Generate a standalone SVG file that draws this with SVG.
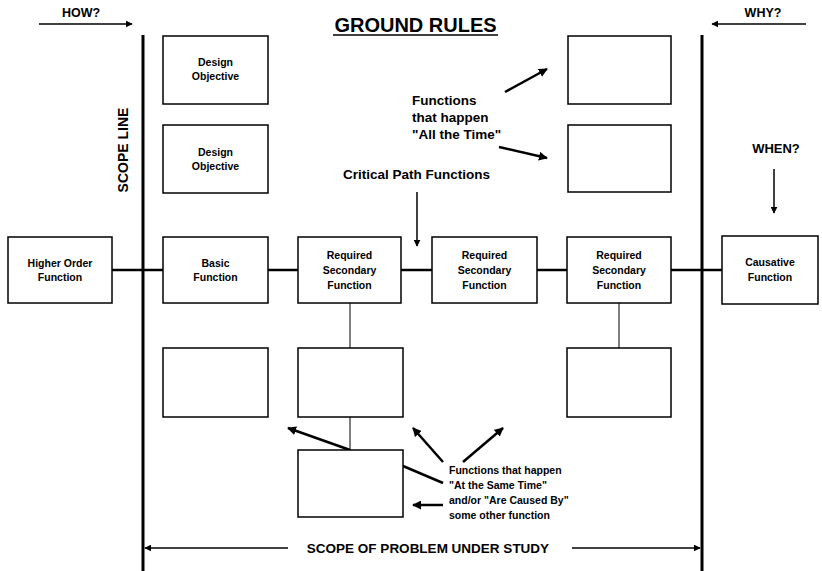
<svg xmlns="http://www.w3.org/2000/svg" width="822" height="571" viewBox="0 0 822 571">
<style>
  .box { fill: #fff; stroke: #000; stroke-width: 1.5; }
  .lbl { font-family: "Liberation Sans", Arial, sans-serif; font-weight: bold; font-size: 10.5px; text-anchor: middle; fill: #000; }
  .note { font-family: "Liberation Sans", Arial, sans-serif; font-weight: bold; fill: #000; }
  .scope { stroke: #000; stroke-width: 3; fill: none; }
  .main { stroke: #000; stroke-width: 2.5; fill: none; }
  .thin { stroke: #000; stroke-width: 1; fill: none; }
  .arr { stroke: #000; stroke-width: 1.5; fill: none; marker-end: url(#ah); }
  .arrb { stroke: #000; stroke-width: 2.5; fill: none; marker-end: url(#ah2); }
</style>
<defs>
  <marker id="ah" viewBox="0 0 10 10" refX="9" refY="5" markerWidth="7" markerHeight="7" markerUnits="userSpaceOnUse" orient="auto">
    <path d="M0,0 L10,5 L0,10 z" fill="#000"/>
  </marker>
  <marker id="ah2" viewBox="0 0 10 10" refX="9" refY="5" markerWidth="9" markerHeight="9" markerUnits="userSpaceOnUse" orient="auto">
    <path d="M0,0 L10,5 L0,10 z" fill="#000"/>
  </marker>
</defs>
<rect width="822" height="571" fill="#fff"/>

<!-- Title and headings -->
<g id="title">
  <text class="note" x="415.5" y="32" font-size="20" text-anchor="middle">GROUND RULES</text>
  <line x1="333" y1="35" x2="498" y2="35" stroke="#000" stroke-width="1.5"/>
</g>
<g id="how">
  <text class="note" x="81" y="17" font-size="12.5" text-anchor="middle">HOW?</text>
</g>
<g id="why">
  <text class="note" x="763" y="17" font-size="12.5" text-anchor="middle">WHY?</text>
</g>
<g id="when">
  <text class="note" x="776" y="153" font-size="13" text-anchor="middle">WHEN?</text>
</g>
<g id="scope-line-label">
  <text class="note" transform="translate(128,150) rotate(-90)" font-size="14" text-anchor="middle">SCOPE LINE</text>
</g>
<g id="critical-path-label">
  <text class="note" x="490" y="179" font-size="13.5" text-anchor="end">Critical Path Functions</text>
</g>
<g id="all-the-time-label">
  <text class="note" x="412" y="105" font-size="13.5">Functions</text>
  <text class="note" x="412" y="122" font-size="13.5">that happen</text>
  <text class="note" x="412" y="139" font-size="13.5">"All the Time"</text>
</g>
<g id="same-time-label">
  <text class="note" x="449" y="474" font-size="10.5">Functions that happen</text>
  <text class="note" x="449" y="489" font-size="10.5">"At the Same Time"</text>
  <text class="note" x="449" y="504" font-size="10.5">and/or "Are Caused By"</text>
  <text class="note" x="449" y="519" font-size="10.5">some other function</text>
</g>
<g id="scope-of-problem-label">
  <text class="note" x="428" y="553" font-size="13.5" text-anchor="middle">SCOPE OF PROBLEM UNDER STUDY</text>
</g>

<!-- Connectors -->
<g id="connectors">
  <line class="scope" x1="143" y1="35" x2="143" y2="571"/>
  <line class="scope" x1="702" y1="35" x2="702" y2="571"/>
  <line class="main" x1="112" y1="270" x2="163" y2="270"/>
  <line class="main" x1="268" y1="270" x2="298" y2="270"/>
  <line class="main" x1="401" y1="270" x2="432" y2="270"/>
  <line class="main" x1="537" y1="270" x2="567" y2="270" stroke-width="2"/>
  <line class="main" x1="671" y1="270" x2="722" y2="270"/>
  <line class="thin" x1="350" y1="303" x2="350" y2="348"/>
  <line class="thin" x1="350" y1="417" x2="350" y2="450"/>
  <line class="thin" x1="619" y1="303" x2="619" y2="348"/>
  <line class="arr" x1="39" y1="24" x2="132" y2="24"/>
  <line class="arr" x1="806" y1="24" x2="712" y2="24"/>
  <line class="arr" x1="774" y1="169" x2="774" y2="213"/>
  <line class="arr" x1="417" y1="192" x2="417" y2="246"/>
  <line class="arrb" x1="505" y1="92" x2="547" y2="69"/>
  <line class="arrb" x1="499" y1="147" x2="547" y2="158"/>
  <line class="arrb" x1="350" y1="450" x2="288" y2="428"/>
  <line class="arrb" x1="443" y1="462" x2="413" y2="428"/>
  <line class="arrb" x1="463" y1="462" x2="503" y2="428"/>
  <line class="main" x1="403" y1="466" x2="443" y2="483" stroke-width="2"/>
  <line class="arrb" x1="443" y1="505" x2="413" y2="505"/>
  <line class="arr" x1="288" y1="548" x2="145" y2="548"/>
  <line class="arr" x1="572" y1="548" x2="700" y2="548"/>
</g>

<!-- Nodes -->
<g id="design-objective-1">
  <rect class="box" x="163" y="36" width="105" height="68"/>
  <text class="lbl" x="215.5" y="66">Design</text>
  <text class="lbl" x="215.5" y="80">Objective</text>
</g>
<g id="design-objective-2">
  <rect class="box" x="163" y="125" width="105" height="68"/>
  <text class="lbl" x="215.5" y="155.5">Design</text>
  <text class="lbl" x="215.5" y="169.5">Objective</text>
</g>
<g id="all-time-box-1">
  <rect class="box" x="568" y="36" width="103" height="68"/>
</g>
<g id="all-time-box-2">
  <rect class="box" x="568" y="125" width="103" height="67"/>
</g>
<g id="higher-order-function">
  <rect class="box" x="8" y="237" width="104" height="66"/>
  <text class="lbl" x="60" y="266.5">Higher Order</text>
  <text class="lbl" x="60" y="280.5">Function</text>
</g>
<g id="basic-function">
  <rect class="box" x="163" y="237" width="105" height="66"/>
  <text class="lbl" x="215.5" y="266.5">Basic</text>
  <text class="lbl" x="215.5" y="280.5">Function</text>
</g>
<g id="required-secondary-1">
  <rect class="box" x="298" y="237" width="103" height="66"/>
  <text class="lbl" x="349.5" y="259">Required</text>
  <text class="lbl" x="349.5" y="274">Secondary</text>
  <text class="lbl" x="349.5" y="289">Function</text>
</g>
<g id="required-secondary-2">
  <rect class="box" x="432" y="237" width="105" height="66"/>
  <text class="lbl" x="484.5" y="259">Required</text>
  <text class="lbl" x="484.5" y="274">Secondary</text>
  <text class="lbl" x="484.5" y="289">Function</text>
</g>
<g id="required-secondary-3">
  <rect class="box" x="567" y="237" width="104" height="66"/>
  <text class="lbl" x="619" y="259">Required</text>
  <text class="lbl" x="619" y="274">Secondary</text>
  <text class="lbl" x="619" y="289">Function</text>
</g>
<g id="causative-function">
  <rect class="box" x="722" y="236" width="96" height="68"/>
  <text class="lbl" x="770" y="266">Causative</text>
  <text class="lbl" x="770" y="281">Function</text>
</g>
<g id="same-time-box-1">
  <rect class="box" x="163" y="348" width="105" height="69"/>
</g>
<g id="same-time-box-2">
  <rect class="box" x="298" y="348" width="105" height="69"/>
</g>
<g id="same-time-box-3">
  <rect class="box" x="567" y="348" width="104" height="69"/>
</g>
<g id="caused-by-box">
  <rect class="box" x="298" y="450" width="105" height="67"/>
</g>
</svg>
